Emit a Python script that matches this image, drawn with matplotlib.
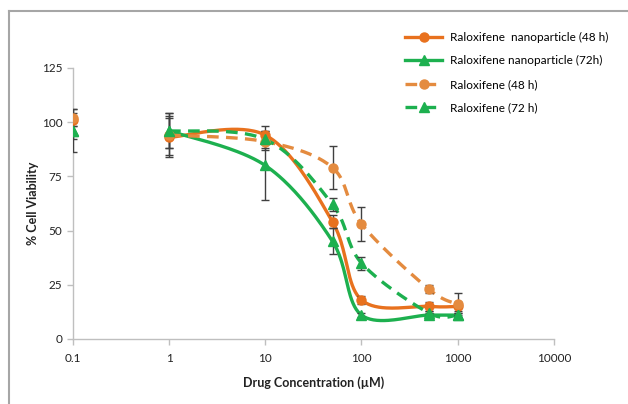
import matplotlib.pyplot as plt
from matplotlib.lines import Line2D
import numpy as np

# data
conc = [1, 10, 50, 100, 500, 1000]
ctrl_x = 0.1

nano48 = [93, 94, 54, 18, 15, 15]
nano48_err = [9, 4, 3, 2, 2, 2]
nano72 = [96, 80, 45, 11, 11, 11]
nano72_err = [8, 16, 6, 1, 1, 1]
ral48 = [94, 91, 79, 53, 23, 16]
ral48_err = [9, 4, 10, 8, 2, 5]
ral72 = [96, 92, 62, 35, 12, 11]
ral72_err = [8, 4, 3, 3, 1, 1]

ctrl = [101, 96, 102, 96]
ctrl_err = [3, 10, 4, 4]

labels = ['Raloxifene  nanoparticle (48 h)', 'Raloxifene nanoparticle (72h)',
          'Raloxifene (48 h)', 'Raloxifene (72 h)']

ORANGE = '#E8711E'
ORANGE_L = '#E48B3F'
GREEN = '#1DB04F'


def smooth(xs, ys, n=40):
    # Excel-like smoothed line (Catmull-Rom bezier) in log-x space
    px = np.log10(np.array(xs, float))
    py = np.array(ys, float)
    P = np.column_stack([px, py])
    P = np.vstack([P[0], P, P[-1]])
    out = []
    t = np.linspace(0, 1, n)[:, None]
    for i in range(1, len(P) - 2):
        p0, p1, p2, p3 = P[i - 1], P[i], P[i + 1], P[i + 2]
        b1 = p1 + (p2 - p0) / 6
        b2 = p2 - (p3 - p1) / 6
        seg = ((1 - t) ** 3 * p1 + 3 * (1 - t) ** 2 * t * b1
               + 3 * (1 - t) * t ** 2 * b2 + t ** 3 * p2)
        out.append(seg)
    out = np.vstack(out)
    return 10 ** out[:, 0], out[:, 1]


plt.rcParams['font.family'] = ['Lato', 'DejaVu Sans']
fig = plt.figure(figsize=(6.28, 4.04), dpi=100)
ax = fig.add_axes([0.116, 0.161, 0.766, 0.671])

series = [
    (nano48, nano48_err, ORANGE, 'o', '-'),
    (nano72, nano72_err, GREEN, '^', '-'),
    (ral48, ral48_err, ORANGE_L, 'o', (0, (3.5, 2.2))),
    (ral72, ral72_err, GREEN, '^', (0, (3.5, 2.2))),
]

handles = []
for k, (vals, errs, col, mk, ls) in enumerate(series):
    sx, sy = smooth(conc, vals)
    ax.plot(sx, sy, color=col, lw=2.4, ls=ls, zorder=2)
    ax.errorbar(conc, vals, yerr=errs, fmt='none', ecolor='#404040',
                elinewidth=1, capsize=3, capthick=1, zorder=3)
    ax.errorbar([ctrl_x], [ctrl[k]], yerr=[ctrl_err[k]], fmt='none',
                ecolor='#404040', elinewidth=1, capsize=3, capthick=1, zorder=3)
    ax.plot(conc + [ctrl_x], vals + [ctrl[k]], ls='none', marker=mk,
            ms=6.5, color=col, mec=col, zorder=4)
    handles.append(Line2D([], [], color=col, lw=2.4, ls=ls, marker=mk, ms=6.5))

ax.set_xscale('log')
ax.set_xlim(0.1, 10000)
ax.set_ylim(0, 125)
ax.set_yticks([0, 25, 50, 75, 100, 125])
ax.set_xticks([0.1, 1, 10, 100, 1000, 10000])
ax.set_xticklabels(['0.1', '1', '10', '100', '1000', '10000'])
ax.minorticks_off()

for s in ['top', 'right']:
    ax.spines[s].set_visible(False)
for s in ['left', 'bottom']:
    ax.spines[s].set_color('#BFBFBF')
    ax.spines[s].set_linewidth(1)
ax.tick_params(colors='#BFBFBF', labelcolor='#222222', labelsize=8.5,
               length=4, width=1)
ax.tick_params(axis='x', pad=6)

ax.set_xlabel('Drug Concentration (µM)', fontsize=9, fontweight='bold',
              color='#222222', labelpad=9)
ax.set_ylabel('% Cell Viability', fontsize=9, fontweight='bold',
              color='#222222', labelpad=2)

ax.legend(handles, labels, loc='upper left', bbox_to_anchor=(0.68, 1.15),
          frameon=False, fontsize=8.5, handlelength=3.2, labelspacing=1.05,
          handletextpad=0.6, borderaxespad=0)

# outer chart border (top and left visible)
fig.add_artist(Line2D([9 / 628, 1], [1 - 11 / 404, 1 - 11 / 404],
                      transform=fig.transFigure, color='#A6A6A6', lw=1.5))
fig.add_artist(Line2D([9 / 628, 9 / 628], [0, 1 - 11 / 404],
                      transform=fig.transFigure, color='#A6A6A6', lw=1.5))

fig.savefig('out.png', dpi=100)
